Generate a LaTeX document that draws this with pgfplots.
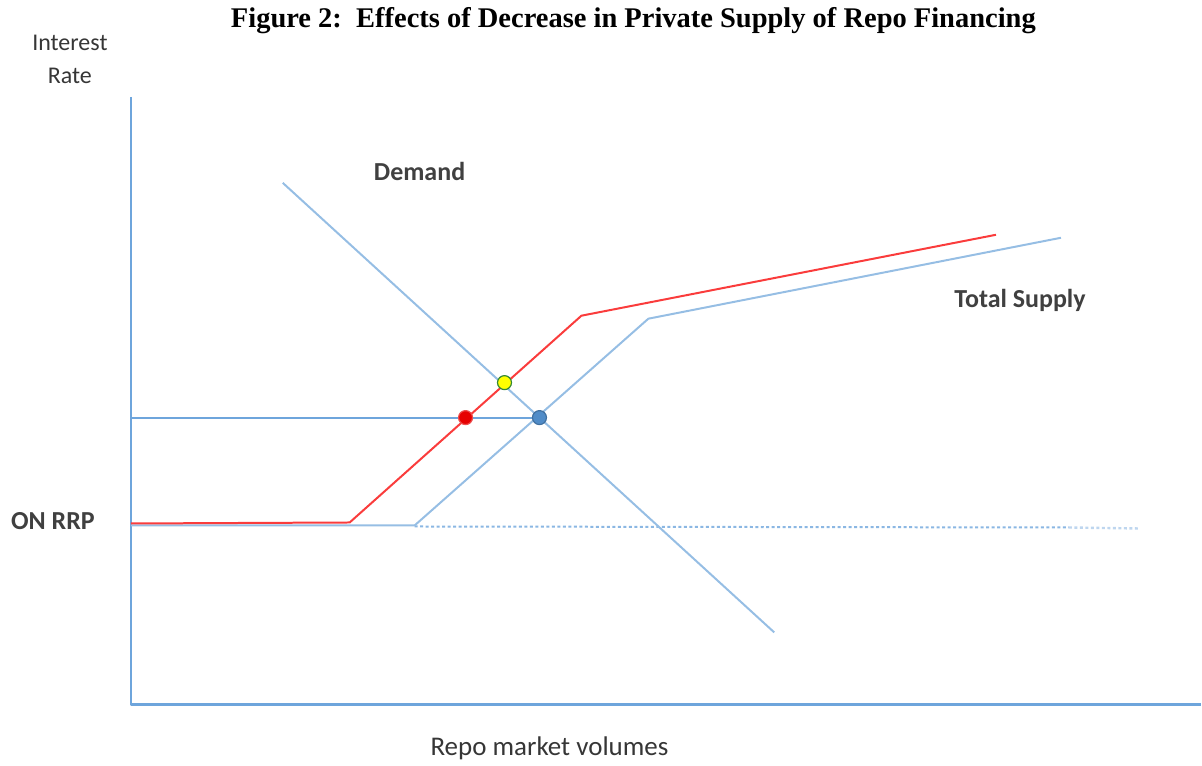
\documentclass[border=0pt]{standalone}
\usepackage{pgfplots}
\pgfplotsset{compat=1.18}
\usepackage{fontspec}
\setmainfont{Carlito}
\newfontfamily\titlefont{Liberation Serif}
\definecolor{lineblue}{RGB}{150,190,228}
\definecolor{axisblue}{RGB}{110,165,220}
\definecolor{supred}{RGB}{250,60,60}
\definecolor{txtgray}{RGB}{64,64,64}
\definecolor{mkred}{RGB}{230,0,0}
\definecolor{mkblue}{RGB}{80,140,200}
\definecolor{mkyellow}{RGB}{255,255,0}
\begin{document}
\begin{tikzpicture}
\begin{axis}[
  width=1202pt, height=766pt, scale only axis,
  xmin=0, xmax=1202, ymin=0, ymax=766, y dir=reverse,
  axis lines=none, clip=false,
  every axis plot/.append style={line join=round},
]
\path (axis cs:0,0) rectangle (axis cs:1202,766);
% axes
\addplot[axisblue, line width=2.4pt] coordinates {(131,97) (131,705) (1202,705)};
% ON RRP dotted extension
\addplot[axisblue!80, line width=2pt, dash pattern=on 3pt off 2.5pt] coordinates {(415,527) (1070,528)};
\addplot[axisblue!45, line width=2.4pt, dash pattern=on 3pt off 2.5pt] coordinates {(1070,528) (1140,529)};
% horizontal line at equilibrium rate
\addplot[axisblue, line width=2pt] coordinates {(131,418) (540,418)};
% demand
\addplot[lineblue, line width=2pt] coordinates {(283,183) (775,633)};
% total supply (blue)
\addplot[lineblue, line width=2pt] coordinates {(131,526) (415,526) (649,319) (1062,238)};
% decreased supply (red)
\addplot[supred, line width=2pt] coordinates {(131,524) (350,523) (582,316) (997,235)};
% markers
\addplot[only marks, mark=*, mark size=7pt, mark options={fill=mkyellow, draw=black!45!green!60!gray, line width=1.2pt}] coordinates {(505,383)};
\addplot[only marks, mark=*, mark size=7pt, mark options={fill=mkred, draw=mkred!70!white, line width=1.2pt}] coordinates {(466,418)};
\addplot[only marks, mark=*, mark size=7pt, mark options={fill=mkblue, draw=mkblue!80!black, line width=1.2pt}] coordinates {(540,418)};
% texts
\node[font=\titlefont\bfseries\fontsize{28.5}{32}\selectfont, anchor=center] at (axis cs:634,21) {Figure 2:\ \ Effects of Decrease in Private Supply of Repo Financing};
\node[font=\fontsize{24}{28}\selectfont, text=txtgray!85!black] at (axis cs:70,43) {Interest};
\node[font=\fontsize{24}{28}\selectfont, text=txtgray!85!black] at (axis cs:70,76) {Rate};
\node[font=\bfseries\fontsize{26}{30}\selectfont, text=txtgray] at (axis cs:420,172) {Demand};
\node[font=\bfseries\fontsize{26}{30}\selectfont, text=txtgray] at (axis cs:1021,301) {Total Supply};
\node[font=\bfseries\fontsize{26}{30}\selectfont, text=txtgray] at (axis cs:53,522) {ON RRP};
\node[font=\fontsize{27}{30}\selectfont, text=txtgray!85!black] at (axis cs:550,749) {Repo market volumes};
\end{axis}
\end{tikzpicture}
\end{document}
